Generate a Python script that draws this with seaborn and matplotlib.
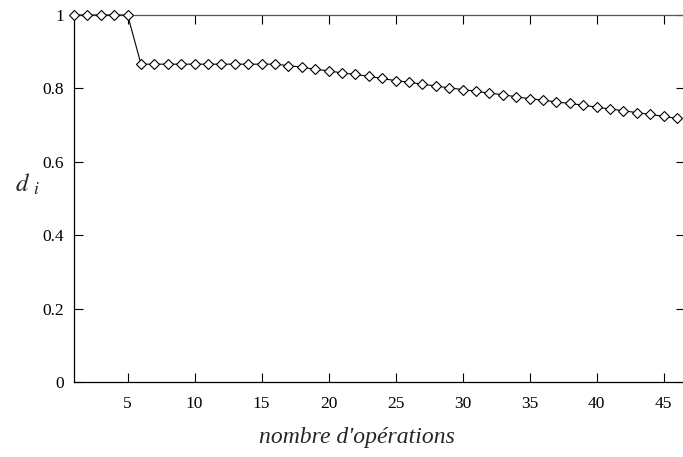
import matplotlib
matplotlib.use("Agg")
import matplotlib.pyplot as plt
import seaborn as sns
import pandas as pd

operations = list(range(1, 47))
d_values = [1.0, 1.0, 1.0, 1.0, 1.0,
            0.866, 0.866, 0.866, 0.866, 0.866, 0.866, 0.866, 0.866, 0.866, 0.866, 0.866,
            0.862, 0.858, 0.852, 0.848, 0.842, 0.838, 0.833, 0.827, 0.821,
            0.817, 0.811, 0.807, 0.801, 0.797, 0.792, 0.787, 0.783, 0.777, 0.772,
            0.768, 0.763, 0.759, 0.754, 0.749, 0.744, 0.739, 0.734, 0.729, 0.724, 0.718]
x_ticks = [5, 10, 15, 20, 25, 30, 35, 40, 45]
y_ticks = [0, 0.2, 0.4, 0.6, 0.8, 1]
y_ticklabels = ["0", "0.2", "0.4", "0.6", "0.8", "1"]

sns.set_style("ticks")
plt.rcParams['font.family'] = ['Liberation Serif', 'DejaVu Serif']
plt.rcParams['mathtext.fontset'] = 'stix'

df = pd.DataFrame({"ops": operations, "d": d_values})

fig = plt.figure(figsize=(6.83, 4.57), dpi=100)
ax = fig.add_axes([74/683, 1-382/457, 1.003-74/683, (382-15)/457])

sns.lineplot(data=df, x="ops", y="d", ax=ax, color="black", linewidth=0.8,
             marker="D", markersize=5, markerfacecolor="white",
             markeredgecolor="black", markeredgewidth=0.8, clip_on=False, zorder=5)

ax.set_xlim(1, 46.6)
ax.set_ylim(0, 1)
ax.set_xticks(x_ticks)
ax.set_xticklabels([str(t) for t in x_ticks])
ax.set_yticks(y_ticks)
ax.set_yticklabels(y_ticklabels)
ax.tick_params(direction="in", length=6.5, width=0.8, top=True, right=True,
               labelsize=12.5, colors="black")
ax.tick_params(axis="x", pad=10)
ax.tick_params(axis="y", pad=7)
for s in ax.spines.values():
    s.set_visible(True)
    s.set_linewidth(0.9)
    s.set_color("black")
ax.spines["top"].set_color("#555555")

ax.set_xlabel("nombre d'opérations", fontsize=17, style="italic")
ax.xaxis.set_label_coords((356-74)/609, 1-(438-15)/367)
ax.xaxis.label.set_va("center")
ax.set_ylabel(r"$d\ _{i}$", fontsize=18, rotation=0, va="center", ha="center")
ax.yaxis.set_label_coords(-(74-28)/609, (382-184)/367)

fig.savefig("out.png", dpi=100)
